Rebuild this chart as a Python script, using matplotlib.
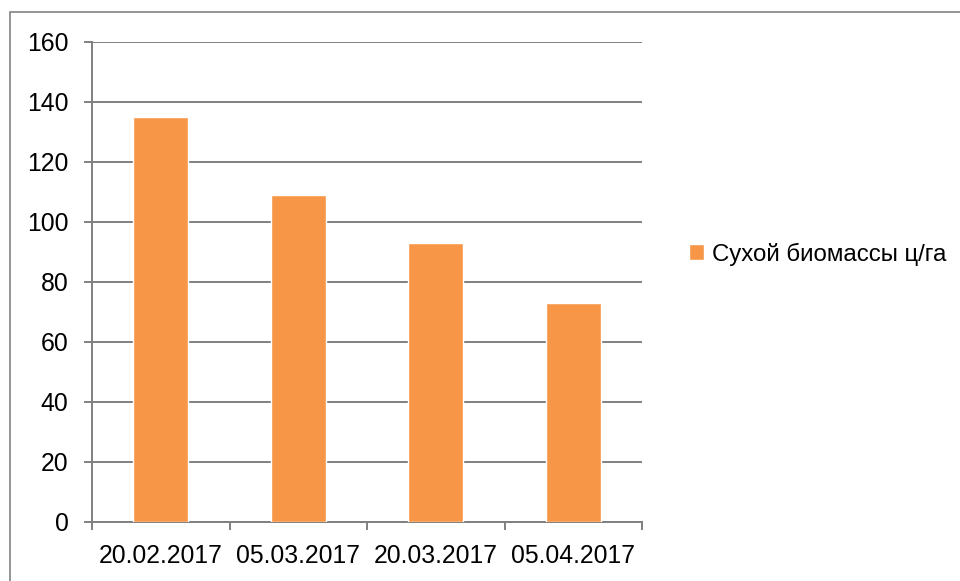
import matplotlib
matplotlib.use("Agg")
import matplotlib.pyplot as plt
from matplotlib.patches import Rectangle

categories = ["20.02.2017", "05.03.2017", "20.03.2017", "05.04.2017"]
values = [134.7, 108.8, 92.9, 72.7]
series_name = "Сухой биомассы ц/га"
yticks = [0, 20, 40, 60, 80, 100, 120, 140, 160]

plt.rcParams['font.family'] = ['Liberation Sans', 'DejaVu Sans']
W, H = 960, 581
fig = plt.figure(figsize=(W / 100, H / 100), dpi=100)
ax = fig.add_axes([92 / W, (H - 521.5) / H, 550 / W, 480 / H])

grid_c = "#808080"
bar_c = "#F79646"
fs = 17.8
x = list(range(len(categories)))
ax.bar(x, values, width=0.4, color=bar_c, edgecolor="white", linewidth=1.0,
       label=series_name, zorder=3)

ax.set_xlim(-0.5, len(categories) - 0.5)
ax.set_ylim(0, 160)
ax.set_yticks(yticks)
ax.set_yticklabels([str(v) for v in yticks])
ax.yaxis.grid(True, color=grid_c, linewidth=1.4, zorder=0)
ax.set_axisbelow(True)

ax.set_xticks(x)
ax.set_xticklabels(categories)
ax.set_xticks([i - 0.5 for i in range(len(categories) + 1)], minor=True)
ax.tick_params(axis='x', which='major', length=0, pad=16, labelsize=fs)
ax.tick_params(axis='x', which='minor', length=6, width=1.4, color=grid_c, direction='out')
ax.tick_params(axis='y', length=6, width=1.4, color=grid_c, direction='out', pad=11, labelsize=fs)

for s in ['top', 'right']:
    ax.spines[s].set_visible(False)
for s in ['left', 'bottom']:
    ax.spines[s].set_color(grid_c)
    ax.spines[s].set_linewidth(1.4)

leg = ax.legend(loc='center left', bbox_to_anchor=(689 / W, 1 - 254 / H),
                bbox_transform=fig.transFigure, frameon=False, fontsize=17.3,
                handlelength=0.62, handleheight=0.62, handletextpad=0.35, borderpad=0,
                borderaxespad=0)

fig.patches.append(Rectangle((10 / W, -0.05), 1.2, (H - 12) / H + 0.05,
                             transform=fig.transFigure, fill=False,
                             edgecolor="#8C8C8C", linewidth=1.3))

fig.savefig("out.png", dpi=100)
